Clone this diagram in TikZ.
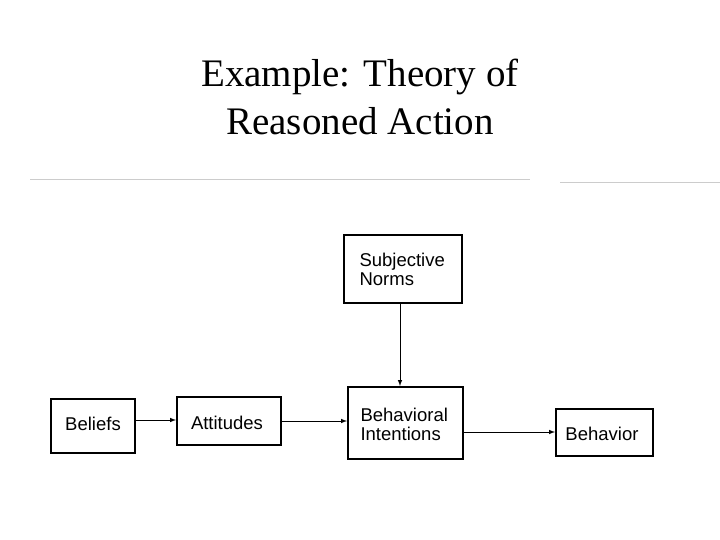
\documentclass[tikz,border=0pt]{standalone}
\usepackage{fontspec}
\setmainfont{Liberation Serif}
\newfontfamily\boxfont{Liberation Sans}
\begin{document}
\begin{tikzpicture}[x=1pt,y=-1pt,
  bx/.style={draw=black,line width=2.2pt,fill=white,anchor=north west,inner sep=0pt},
  tx/.style={font=\boxfont\fontsize{18.5}{19}\selectfont,align=left},
  arr/.style={-latex,line width=1pt}]
\useasboundingbox (0,0) rectangle (720,540);
\node[font=\fontsize{39}{48}\selectfont,align=center] (title) at (360,97) {Example: Theory of\\Reasoned Action};
\draw[gray!40,line width=1pt] (30,180) -- (530,180);
\draw[gray!40,line width=1pt] (560,183) -- (720,183);
\node[bx,minimum width=118pt,minimum height=68pt] (sn) at (343,234) {};
\node[tx,anchor=north west] (snt) at (356,250) {Subjective\\Norms};
\node[bx,minimum width=84pt,minimum height=54pt] (be) at (50,398) {};
\node[tx] (bet) at (93,424) {Beliefs};
\node[bx,minimum width=104pt,minimum height=48pt] (at) at (176,396) {};
\node[tx] (att) at (227,423) {Attitudes};
\node[bx,minimum width=115pt,minimum height=72pt] (bi) at (347,386) {};
\node[tx,anchor=north west] (bit) at (357,405) {Behavioral\\Intentions};
\node[bx,minimum width=97pt,minimum height=47pt] (bh) at (555,408) {};
\node[tx] (bht) at (602,434) {Behavior};
\draw[arr] (be.east |- 0,420) -- (at.west |- 0,420);
\draw[arr] (at.east |- 0,421) -- (bi.west |- 0,421);
\draw[arr] (sn.south -| 400,0) -- (bi.north -| 400,0);
\draw[arr] (bi.east |- 0,432) -- (bh.west |- 0,432);
\end{tikzpicture}
\end{document}
